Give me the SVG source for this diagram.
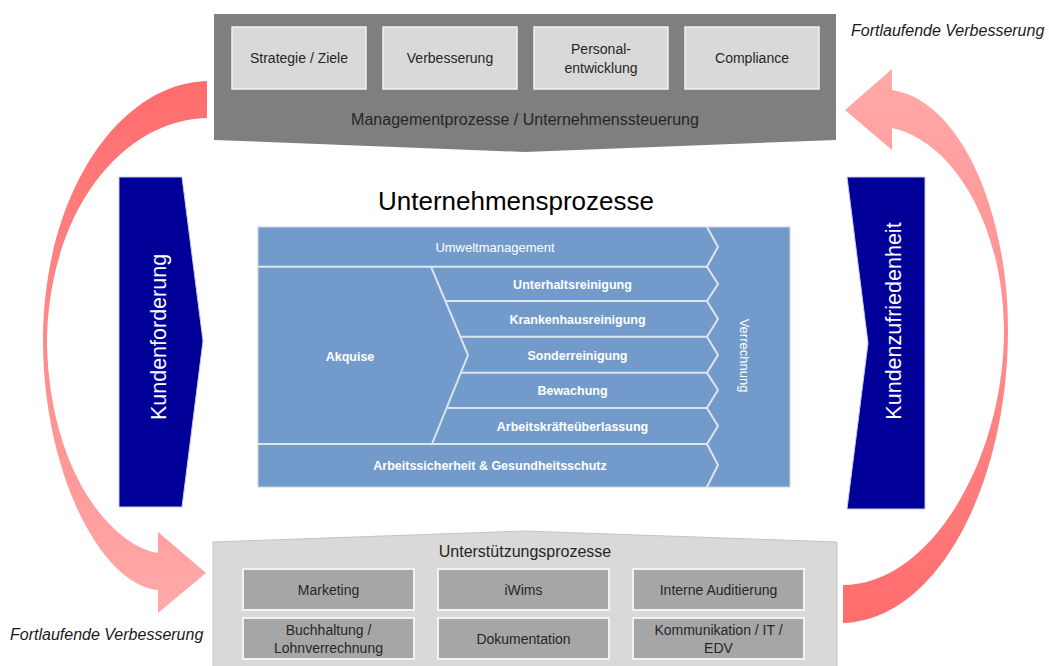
<svg xmlns="http://www.w3.org/2000/svg" width="1049" height="666" viewBox="0 0 1049 666">
<defs>
<linearGradient id="gl" gradientUnits="userSpaceOnUse" x1="0" y1="80" x2="0" y2="615">
<stop offset="0" stop-color="#ff6c6c"/><stop offset="1" stop-color="#ffaaaa"/>
</linearGradient>
<linearGradient id="gr" gradientUnits="userSpaceOnUse" x1="0" y1="625" x2="0" y2="68">
<stop offset="0" stop-color="#ff6c6c"/><stop offset="1" stop-color="#ffaaaa"/>
</linearGradient>
<style>
text{font-family:"Liberation Sans",Arial,sans-serif;}
.dk{fill:#262626;font-size:14px;text-anchor:middle;}
.lbl{fill:#262626;font-size:16px;text-anchor:middle;}
.mbox{fill:#d9d9d9;stroke:#f2f2f2;stroke-width:1.5;}
.sbox{fill:#a6a6a6;stroke:#f2f2f2;stroke-width:2;}
.wb{fill:#ffffff;font-size:12.5px;font-weight:bold;text-anchor:middle;}
.wn{fill:#ffffff;font-size:13px;text-anchor:middle;}
.sep{fill:none;stroke:#dde5ee;stroke-width:2;}
.navy{fill:#000099;stroke:#c8c8e8;stroke-width:1;}
.nv{fill:#ffffff;font-size:21.5px;text-anchor:middle;}
.it{fill:#1a1a1a;font-size:16px;font-style:italic;}
</style>
</defs>
<rect width="1049" height="666" fill="#ffffff"/>

<g id="connectors">
<path id="arrow-left" fill="url(#gl)" d="M207,81 C115,84 43,200 43,340 C43,470 100,585 158,590 L158,613 L206,573 L158,532 L158,553 C110,545 50,470 47,345 C47,215 120,120 207,118 Z"/>
<path id="arrow-right" fill="url(#gr)" d="M843,623 C940,620 1008,480 1008,330 C1008,210 960,100 892,90 L892,69 L845,110 L892,150 L892,128 C950,140 1003,220 1004,330 C1004,460 930,585 843,585 Z"/>
</g>

<g id="management">
<polygon points="214,14 836,14 836,140 525,152 214,140" fill="#7f7f7f"/>
<g id="strategie"><rect class="mbox" x="232" y="27" width="134" height="62"/><text class="dk" x="299" y="63">Strategie / Ziele</text></g>
<g id="verbesserung"><rect class="mbox" x="383" y="27" width="134" height="62"/><text class="dk" x="450" y="63">Verbesserung</text></g>
<g id="personalentwicklung"><rect class="mbox" x="534" y="27" width="134" height="62"/><text class="dk" x="601" y="54">Personal-</text><text class="dk" x="601" y="73">entwicklung</text></g>
<g id="compliance"><rect class="mbox" x="685" y="27" width="134" height="62"/><text class="dk" x="752" y="63">Compliance</text></g>
<text class="lbl" x="525" y="125">Managementprozesse / Unternehmenssteuerung</text>
</g>

<g id="title"><text x="516" y="210" font-size="26" fill="#000000" text-anchor="middle">Unternehmensprozesse</text></g>

<g id="unternehmensprozesse">
<rect x="258" y="227" width="532" height="260" fill="#729bcc" stroke="#d0d4da" stroke-width="1"/>
<polyline class="sep" points="707,227 718,247 707,266.7 718,284 707,301 718,319 707,336.7 718,355 707,372.7 718,390 707,408 718,426 707,444 718,465 707,487"/>
<line class="sep" x1="258" y1="266.7" x2="707" y2="266.7"/>
<line class="sep" x1="258" y1="444" x2="707" y2="444"/>
<polyline class="sep" points="431,266.7 468,355 432,444"/>
<line class="sep" x1="445.5" y1="301" x2="707" y2="301"/>
<line class="sep" x1="460.5" y1="336.7" x2="707" y2="336.7"/>
<line class="sep" x1="460.5" y1="372.7" x2="707" y2="372.7"/>
<line class="sep" x1="446" y1="408" x2="707" y2="408"/>
<g id="umwelt"><text class="wn" x="495" y="251.5">Umweltmanagement</text></g>
<g id="akquise"><text class="wb" x="350" y="361">Akquise</text></g>
<g id="unterhalt"><text class="wb" x="572.5" y="288.5">Unterhaltsreinigung</text></g>
<g id="kranken"><text class="wb" x="577.5" y="323.5">Krankenhausreinigung</text></g>
<g id="sonder"><text class="wb" x="577.5" y="359.5">Sonderreinigung</text></g>
<g id="bewachung"><text class="wb" x="572.5" y="394.5">Bewachung</text></g>
<g id="arbeitskraefte"><text class="wb" x="572.5" y="430.5">Arbeitskräfteüberlassung</text></g>
<g id="arbeitssicherheit"><text class="wb" x="490" y="469.5">Arbeitssicherheit &amp; Gesundheitsschutz</text></g>
<g id="verrechnung"><text class="wn" transform="translate(744,355.5) rotate(90)" x="0" y="4.5">Verrechnung</text></g>
</g>

<g id="kundenforderung">
<polygon class="navy" points="119,177 182,177 203,341 182,507 119,507"/>
<text class="nv" transform="translate(158,337) rotate(-90)" x="0" y="7.5">Kundenforderung</text>
</g>

<g id="kundenzufriedenheit">
<polygon class="navy" points="847,177 925,177 925,509 847,509 868,343"/>
<text class="nv" transform="translate(893,321) rotate(-90)" x="0" y="7.5">Kundenzufriedenheit</text>
</g>

<g id="unterstuetzung">
<polygon points="213,542 525,531 837,542 837,670 213,670" fill="#d9d9d9" stroke="#c4c4c4" stroke-width="1"/>
<text class="lbl" x="525" y="557">Unterstützungsprozesse</text>
<g id="marketing"><rect class="sbox" x="243" y="569" width="171" height="41"/><text class="dk" x="328.5" y="594.5">Marketing</text></g>
<g id="iwims"><rect class="sbox" x="438" y="569" width="171" height="41"/><text class="dk" x="523.5" y="594.5">iWims</text></g>
<g id="auditierung"><rect class="sbox" x="633" y="569" width="171" height="41"/><text class="dk" x="718.5" y="594.5">Interne Auditierung</text></g>
<g id="buchhaltung"><rect class="sbox" x="243" y="618" width="171" height="41"/><text class="dk" x="328.5" y="635">Buchhaltung /</text><text class="dk" x="328.5" y="653">Lohnverrechnung</text></g>
<g id="dokumentation"><rect class="sbox" x="438" y="618" width="171" height="41"/><text class="dk" x="523.5" y="643.5">Dokumentation</text></g>
<g id="kommunikation"><rect class="sbox" x="633" y="618" width="171" height="41"/><text class="dk" x="718.5" y="635">Kommunikation / IT /</text><text class="dk" x="718.5" y="653">EDV</text></g>
</g>

<g id="labels">
<text class="it" x="851" y="36">Fortlaufende Verbesserung</text>
<text class="it" x="10" y="640">Fortlaufende Verbesserung</text>
</g>
</svg>
